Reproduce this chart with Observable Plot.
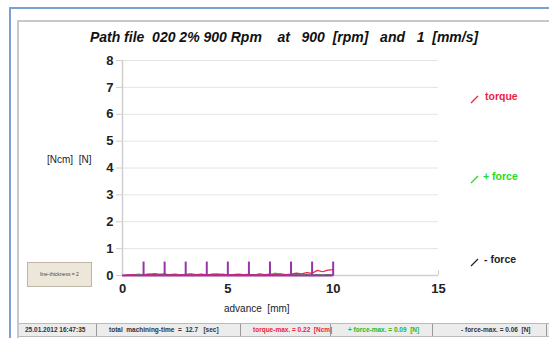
<!DOCTYPE html>
<html><head><meta charset="utf-8">
<script src="https://cdn.jsdelivr.net/npm/d3@7"></script>
<script src="https://cdn.jsdelivr.net/npm/@observablehq/plot@0.6"></script>
<style>
html,body{margin:0;padding:0;background:#fff;}
body{width:549px;height:338px;position:relative;overflow:hidden;font-family:"Liberation Sans",Arial,sans-serif;}
.abs{position:absolute;white-space:pre;}
#outer{position:absolute;left:9px;top:7px;width:560px;height:340px;border-left:2px solid #7aa0d4;border-top:2px solid #7aa0d4;box-sizing:border-box;}
#inner{position:absolute;left:17px;top:20px;width:560px;height:320px;border-left:2px solid #c8c8c8;border-top:2px solid #c8c8c8;box-sizing:border-box;}
#title{left:0;width:568px;top:29px;text-align:center;font-weight:bold;font-style:italic;font-size:14px;color:#111;}
#plot{position:absolute;left:0;top:0;}
#ylab{left:47px;top:154px;font-size:10px;color:#222;}
#xlab{left:224px;top:303px;font-size:10px;color:#222;}
#btn{left:27px;top:262px;width:65px;height:25px;background:#ede7da;border:1px solid #bdb6a6;box-sizing:border-box;font-size:5px;color:#444;text-align:center;line-height:23px;}
.leg{font-weight:bold;font-size:10.5px;}
#status{position:absolute;left:19px;top:323px;width:540px;height:12px;background:#ececec;border-top:1px solid #bbb;border-bottom:1px solid #bbb;font-size:6.5px;font-weight:bold;color:#333;}
#status span{position:absolute;top:2px;white-space:pre;}
#status i{position:absolute;top:0;width:1px;height:12px;background:#999;}
</style></head><body>
<div id="outer"></div>
<div id="inner"></div>
<div id="title" class="abs">Path file  020 2% 900 Rpm    at   900  [rpm]   and   1  [mm/s]</div>
<div id="plot"></div>
<div id="ylab" class="abs">[Ncm]  [N]</div>
<div id="xlab" class="abs">advance  [mm]</div>
<div id="btn" class="abs">line-thickness = 2</div>
<div class="abs leg" style="left:485px;top:90px;color:#ee2244">torque</div>
<div class="abs leg" style="left:483px;top:170px;color:#22dd22">+ force</div>
<div class="abs leg" style="left:484px;top:253px;color:#222">- force</div>
<div id="status">
<span style="left:6px">25.01.2012 16:47:35</span><i style="left:77px"></i>
<span style="left:90px">total  machining-time  =  12.7   [sec]</span><i style="left:221px"></i>
<span style="left:234px;color:#ee2233">torque-max. = 0.22  [Ncm]</span><i style="left:311px"></i>
<span style="left:329px;color:#22bb22">+ force-max. = 0.09  [N]</span><i style="left:413px"></i>
<span style="left:442px">- force-max. = 0.06  [N]</span><i style="left:527px"></i>
</div>
<script>
const advance = [0,0.25,0.5,0.75,1,1.25,1.5,1.75,2,2.25,2.5,2.75,3,3.25,3.5,3.75,4,4.25,4.5,4.75,5,5.25,5.5,5.75,6,6.25,6.5,6.75,7,7.25,7.5,7.75,8,8.25,8.5,8.75,9,9.25,9.5,9.75,10];
const torque = [0,0.02,0.03,0.01,0.02,0.04,0.02,0.03,0.01,0.03,0.05,0.02,0.04,0.06,0.03,0.05,0.02,0.04,0.03,0.05,0.02,0.03,0.05,0.03,0.04,0.02,0.06,0.03,0.05,0.04,0.06,0.03,0.05,0.09,0.06,0.11,0.08,0.19,0.14,0.2,0.22];
const plusForce = [0,0.01,0.02,0.05,0.03,0.06,0.04,0.02,0.03,0.01,0.02,0.01,0.03,0.02,0.01,0.02,0.01,0.02,0.01,0.03,0.02,0.01,0.02,0.01,0.03,0.02,0.01,0.03,0.02,0.09,0.04,0.02,0.03,0.01,0.02,0.01,0.02,0.01,0.02,0.01,0.02];
const minusForce = [0,0.01,0.0,0.02,0.01,0.03,0.06,0.04,0.05,0.02,0.01,0.02,0.01,0.02,0.01,0.03,0.02,0.04,0.05,0.02,0.01,0.02,0.01,0.02,0.01,0.02,0.01,0.02,0.01,0.02,0.01,0.02,0.01,0.02,0.01,0.02,0.01,0.02,0.01,0.02,0.01];
const markers = [1,2,3,4,5,6,7,8,9,10];
const markerHeight = 0.5;
const xTicks = [0,5,10,15];
const yTicks = [0,1,2,3,4,5,6,7,8];
const legend = [{label:"torque",color:"#ee2244",y:97},{label:"+ force",color:"#22dd22",y:177},{label:"- force",color:"#222",y:260}];

const rows = (vals)=>advance.map((a,i)=>({x:a,y:vals[i]}));
const chart = Plot.plot({
  width:549, height:338,
  marginLeft:122, marginRight:111, marginTop:60, marginBottom:63,
  style:{background:"transparent",fontFamily:"Liberation Sans, Arial, sans-serif"},
  x:{type:"linear",domain:[0,15], ticks:xTicks, label:null},
  y:{type:"linear",domain:[0,8], ticks:yTicks, label:null},
  marks:[
    Plot.gridY(yTicks,{stroke:"#e4e4e4",strokeOpacity:1}),
    Plot.ruleX([0],{stroke:"#cfcfcf",strokeWidth:1.5}),
    Plot.ruleY([0],{stroke:"#cfcfcf",strokeWidth:1.5}),
    Plot.ruleX(xTicks,{y1:0,y2:0.18,stroke:"#cfcfcf",strokeWidth:1.2}),
    Plot.axisY(yTicks,{tickSize:6,tickPadding:3,stroke:"#cfcfcf",fontSize:13,fill:"#222",fontWeight:"bold"}),
    Plot.axisX(xTicks,{tickSize:0,tickPadding:8,fontSize:13,fill:"#222",fontWeight:"bold"}),
    Plot.line(rows(minusForce),{x:"x",y:"y",stroke:"#222",strokeWidth:1.2}),
    Plot.line(rows(plusForce),{x:"x",y:"y",stroke:"#22dd22",strokeWidth:1.2}),
    Plot.line(rows(torque),{x:"x",y:"y",stroke:"#ee2244",strokeWidth:1.2}),
    Plot.ruleY([0],{x1:0,x2:10,stroke:"#9933aa",strokeWidth:2}),
    Plot.ruleX(markers,{y1:0,y2:markerHeight,stroke:"#9933aa",strokeWidth:2})
  ]
});
document.getElementById("plot").appendChild(chart);
for (const l of legend){
  const s=document.createElementNS("http://www.w3.org/2000/svg","svg");
  s.setAttribute("width",10);s.setAttribute("height",10);
  s.style.position="absolute";s.style.left="470px";s.style.top=(l.y-3)+"px";
  const ln=document.createElementNS("http://www.w3.org/2000/svg","line");
  ln.setAttribute("x1",1);ln.setAttribute("y1",9);ln.setAttribute("x2",8);ln.setAttribute("y2",2);
  ln.setAttribute("stroke",l.color);ln.setAttribute("stroke-width",1.2);
  s.appendChild(ln);document.body.appendChild(s);
}
</script>
</body></html>
